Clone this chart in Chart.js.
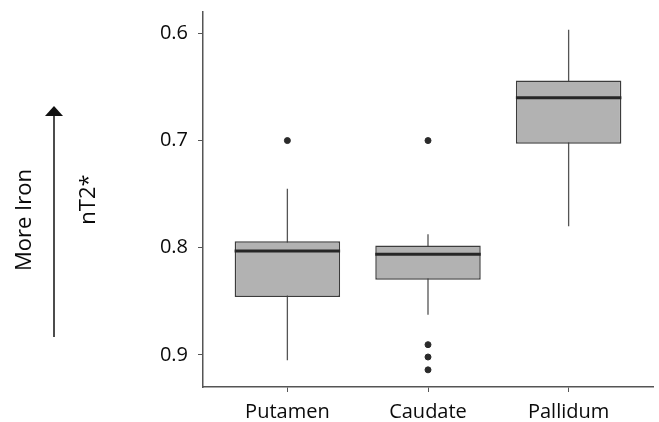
<!DOCTYPE html>
<html>
<head>
<meta charset="utf-8">
<script src="https://cdn.jsdelivr.net/npm/chart.js@4.4.1/dist/chart.umd.min.js"></script>
<style>
    body { margin: 0; background: #fff; }
</style>
</head>
<body>
<canvas id="iron_box_chart" width="659" height="422"></canvas>
<script>
    // values, one entry per region
    var regions = ["Putamen", "Caudate", "Pallidum"];
    var whiskerMin = [0.745, 0.7875, 0.5965];
    var quartile1 = [0.794, 0.798, 0.644];
    var medians = [0.803, 0.806, 0.660];
    var quartile3 = [0.846, 0.830, 0.703];
    var whiskerMax = [0.905, 0.8625, 0.780];
    var outliers = [[0.700], [0.700, 0.8905, 0.902, 0.914], []];
    var yTicks = [0.6, 0.7, 0.8, 0.9];

    var boxHalf = 0.375;
    var axisColor = "#555";
    var textColor = "#0a0a0a";
    var fontFamily = "'Open Sans', sans-serif";

    var datasets = [];

    // whiskers, drawn behind the boxes
    regions.forEach(function (name, i) {
        datasets.push({
            type: 'line',
            data: [{x: i + 1, y: whiskerMin[i]}, {x: i + 1, y: whiskerMax[i]}],
            borderColor: "#555",
            borderWidth: 1.3,
            pointRadius: 0,
            fill: false,
            order: 4,
        });
    });

    // boxes
    datasets.push({
        type: 'bar',
        data: regions.map(function (name, i) {
            return {x: i + 1, y: [quartile1[i], quartile3[i]]};
        }),
        backgroundColor: "#b2b2b2",
        borderColor: "#3c3c3c",
        borderWidth: 1.5,
        borderSkipped: false,
        barPercentage: 0.75,
        categoryPercentage: 1,
        order: 3,
    });

    // medians
    regions.forEach(function (name, i) {
        datasets.push({
            type: 'line',
            data: [{x: i + 1 - boxHalf, y: medians[i]}, {x: i + 1 + boxHalf, y: medians[i]}],
            borderColor: "#262626",
            borderWidth: 3,
            pointRadius: 0,
            fill: false,
            order: 2,
        });
    });

    // outliers
    var outlierPoints = [];
    outliers.forEach(function (list, i) {
        list.forEach(function (v) {
            outlierPoints.push({x: i + 1, y: v});
        });
    });
    datasets.push({
        type: 'scatter',
        data: outlierPoints,
        backgroundColor: "#2a2a2a",
        borderColor: "#2a2a2a",
        pointRadius: 3,
        order: 1,
    });

    var sideNote = {
        id: 'sideNote',
        afterDraw: function (chart) {
            var ctx = chart.ctx;
            ctx.save();
            ctx.fillStyle = textColor;
            ctx.font = "22px " + fontFamily;
            ctx.textAlign = 'center';
            ctx.textBaseline = 'middle';
            ctx.translate(25, 220);
            ctx.rotate(-Math.PI / 2);
            ctx.fillText("More Iron", 0, 0);
            ctx.restore();

            ctx.save();
            ctx.strokeStyle = "#111";
            ctx.fillStyle = "#111";
            ctx.lineWidth = 1.5;
            ctx.beginPath();
            ctx.moveTo(54, 337);
            ctx.lineTo(54, 114);
            ctx.stroke();
            ctx.beginPath();
            ctx.moveTo(45, 116);
            ctx.lineTo(63, 116);
            ctx.lineTo(54, 106);
            ctx.closePath();
            ctx.fill();
            ctx.restore();
        }
    };

    new Chart(document.getElementById("iron_box_chart"), {
        type: 'bar',
        data: {datasets: datasets},
        plugins: [sideNote],
        options: {
            responsive: false,
            animation: false,
            layout: {padding: {left: 73, top: 12, right: 6, bottom: 0}},
            plugins: {
                legend: {display: false},
                tooltip: {enabled: false},
            },
            scales: {
                x: {
                    type: 'linear',
                    min: 0.4,
                    max: 3.6,
                    offset: false,
                    afterBuildTicks: function (scale) {
                        scale.ticks = regions.map(function (name, i) { return {value: i + 1}; });
                    },
                    afterFit: function (scale) {
                        scale.height = 35;
                        scale.paddingLeft = 0;
                        scale.paddingRight = 0;
                    },
                    ticks: {
                        padding: 8,
                        color: textColor,
                        font: {family: fontFamily, size: 20},
                        callback: function (value) { return regions[value - 1]; },
                    },
                    grid: {drawOnChartArea: false, offset: false, tickLength: 5, color: axisColor},
                    border: {display: true, color: axisColor, width: 1.5},
                },
                y: {
                    type: 'linear',
                    reverse: true,
                    min: 0.58,
                    max: 0.93,
                    afterBuildTicks: function (scale) {
                        scale.ticks = yTicks.map(function (v) { return {value: v}; });
                    },
                    afterFit: function (scale) {
                        scale.width = 130;
                        scale.paddingTop = 0;
                        scale.paddingBottom = 0;
                    },
                    ticks: {
                        padding: 10,
                        color: textColor,
                        font: {family: fontFamily, size: 20},
                        callback: function (value) { return value.toFixed(1); },
                    },
                    grid: {drawOnChartArea: false, tickLength: 5, color: axisColor},
                    border: {display: true, color: axisColor, width: 1.5},
                    title: {
                        display: true,
                        text: "nT2*",
                        color: textColor,
                        padding: {top: 3},
                        font: {family: fontFamily, size: 22},
                    },
                },
            },
        },
    });
</script>
</body>
</html>
